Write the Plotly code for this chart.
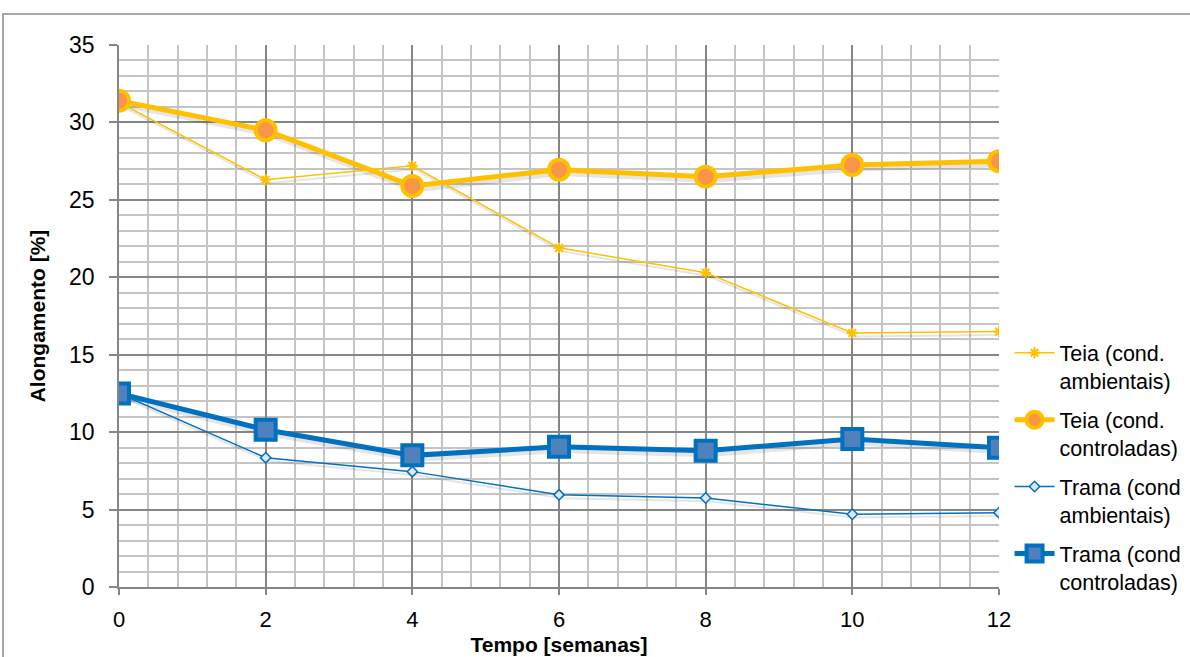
import plotly.graph_objects as go

semanas = [0, 2, 4, 6, 8, 10, 12]
teia_amb = [31.3, 26.3, 27.2, 21.9, 20.3, 16.4, 16.5]
teia_ctrl = [31.4, 29.5, 25.9, 26.95, 26.5, 27.25, 27.5]
trama_amb = [12.5, 8.35, 7.45, 5.95, 5.75, 4.7, 4.8]
trama_ctrl = [12.5, 10.15, 8.5, 9.05, 8.8, 9.55, 9.0]

names = ["Teia (cond.<br>ambientais)", "Teia (cond.<br>controladas)",
         "Trama (cond<br>ambientais)", "Trama (cond<br>controladas)"]

FONT = "Liberation Sans, Arial, sans-serif"
YEL = "#FFC000"
BLU = "#0070C0"

fig = go.Figure()

# soft drop shadows (same data, offset slightly)
for ys, w in [(teia_amb, 2), (teia_ctrl, 6), (trama_amb, 2), (trama_ctrl, 6)]:
    fig.add_trace(go.Scatter(
        x=[s + 0.03 for s in semanas], y=[v - 0.22 for v in ys], mode="lines",
        line=dict(color="rgba(0,0,0,0.10)", width=w), showlegend=False, hoverinfo="skip"))

fig.add_trace(go.Scatter(
    x=semanas, y=teia_amb, name=names[0], mode="lines+markers", legendgroup="a",
    line=dict(color=YEL, width=1.5),
    marker=dict(symbol="asterisk-open", size=9, color=YEL, line=dict(color=YEL, width=2)),
))
fig.add_trace(go.Scatter(
    x=semanas, y=teia_ctrl, name=names[1], mode="lines+markers", legendgroup="b",
    line=dict(color=YEL, width=5),
    marker=dict(symbol="circle", size=20, color="#F79646", line=dict(color=YEL, width=4)),
))
fig.add_trace(go.Scatter(
    x=semanas, y=trama_amb, name=names[2], mode="lines+markers", legendgroup="c",
    line=dict(color=BLU, width=1.5),
    marker=dict(symbol="diamond", size=8, color="#DCE8F5", line=dict(color=BLU, width=1.5)),
))
fig.add_trace(go.Scatter(
    x=semanas, y=trama_ctrl, name=names[3], mode="lines+markers", legendgroup="d",
    line=dict(color=BLU, width=5),
    marker=dict(symbol="square", size=20, color="#4F81BD", line=dict(color=BLU, width=4)),
))

fig.update_layout(
    width=1190, height=657,
    margin=dict(l=119, r=191, t=45, b=70, autoexpand=False),
    paper_bgcolor="white", plot_bgcolor="white",
    font=dict(family=FONT, size=22, color="black"),
    showlegend=True,
    legend=dict(x=1.012, y=0.47, xanchor="left", yanchor="top",
                font=dict(size=21.5, family=FONT), valign="top",
                tracegroupgap=8, itemwidth=40, bgcolor="rgba(0,0,0,0)"),
    xaxis=dict(
        range=[0, 12], tickvals=semanas, ticktext=[str(s) for s in semanas],
        showgrid=True, gridcolor="#868686", gridwidth=1.5,
        minor=dict(dtick=0.4, tick0=0, showgrid=True, gridcolor="#C4C4C4", gridwidth=1.5),
        showline=True, linecolor="#868686", linewidth=1.5,
        ticks="outside", ticklen=6, tickcolor="#868686", tickwidth=1.5,
        tickfont=dict(size=22), zeroline=False, ticklabelstandoff=6, automargin=False,
        title=dict(text="<b>Tempo [semanas]</b>", font=dict(size=21), standoff=6),
    ),
    yaxis=dict(
        range=[0, 35], dtick=5, tick0=0,
        showgrid=True, gridcolor="#868686", gridwidth=1.5,
        minor=dict(dtick=1, tick0=0, showgrid=True, gridcolor="#C4C4C4", gridwidth=1.5),
        showline=True, linecolor="#868686", linewidth=1.5,
        ticks="outside", ticklen=8, tickcolor="#868686", tickwidth=1.5,
        tickfont=dict(size=23), zeroline=False, ticklabelstandoff=10, automargin=False,
        title=dict(text="<b>Alongamento [%]</b>", font=dict(size=21), standoff=18),
    ),
    shapes=[dict(type="rect", xref="paper", yref="paper",
                 x0=-0.1318, x1=1.35, y0=-0.3, y1=1.0572,
                 line=dict(color="#8C8C8C", width=1.5), fillcolor="rgba(0,0,0,0)",
                 layer="below")],
)

fig.write_html("out.html")
